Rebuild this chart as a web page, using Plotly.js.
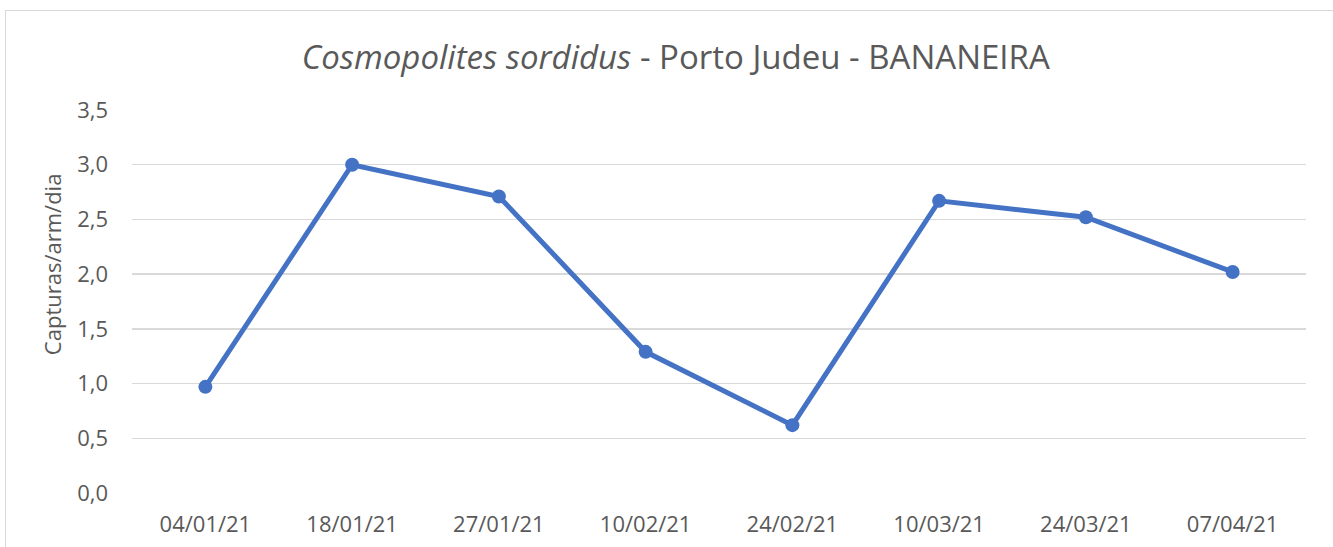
<!DOCTYPE html>
<html>
<head>
<meta charset="utf-8">
<script src="https://cdn.plot.ly/plotly-3.0.1.min.js"></script>
<style>
  html, body { margin: 0; padding: 0; background: #fff; overflow: hidden; }
  #frame { position: absolute; left: 5px; top: 10px; width: 1340px; height: 560px; border: 1px solid #d9d9d9; box-sizing: border-box; pointer-events: none; z-index: 2; }
  #chart { position: absolute; left: 0; top: 0; width: 1333px; height: 547px; }
</style>
</head>
<body>
<div id="chart"></div>
<div id="frame"></div>
<script>
const dates = ["04/01/21", "18/01/21", "27/01/21", "10/02/21", "24/02/21", "10/03/21", "24/03/21", "07/04/21"];
const capturas = [0.97, 3.00, 2.71, 1.29, 0.62, 2.67, 2.52, 2.02];
const yTicks = [0, 0.5, 1, 1.5, 2, 2.5, 3, 3.5];
const yTickLabels = ["0,0", "0,5", "1,0", "1,5", "2,0", "2,5", "3,0", "3,5"];

const font = "Open Sans, Noto Sans, sans-serif";
const gray = "#595959";

const trace = {
  x: dates,
  y: capturas,
  type: "scatter",
  mode: "lines+markers",
  line: { color: "#4472C4", width: 5 },
  marker: { color: "#4472C4", size: 14 },
  hoverinfo: "x+y"
};

const layout = {
  width: 1333,
  height: 547,
  margin: { l: 132, r: 27, t: 110, b: 54 },
  paper_bgcolor: "#ffffff",
  plot_bgcolor: "#ffffff",
  showlegend: false,
  title: {
    text: "<i>Cosmopolites sordidus</i> - Porto Judeu - BANANEIRA",
    font: { family: font, size: 33, color: gray },
    x: 0.507, xanchor: "center",
    y: 0.895, yanchor: "middle"
  },
  xaxis: {
    type: "category",
    range: [-0.5, dates.length - 0.5],
    showgrid: false,
    zeroline: false,
    showline: false,
    ticks: "",
    tickfont: { family: font, size: 22, color: gray },
    ticklabelstandoff: 16
  },
  yaxis: {
    range: [0, 3.5],
    tickvals: yTicks,
    ticktext: yTickLabels,
    showgrid: true,
    gridcolor: "#d9d9d9",
    gridwidth: 1.3,
    zeroline: false,
    showline: false,
    ticks: "",
    tickfont: { family: font, size: 22, color: gray },
    ticklabelstandoff: 23
  },
  annotations: [{
    text: "Capturas/arm/dia",
    xref: "paper", yref: "paper",
    x: -0.068, y: 0.598,
    xanchor: "center", yanchor: "middle",
    textangle: -90,
    showarrow: false,
    font: { family: font, size: 22, color: gray }
  }]
};

Plotly.newPlot("chart", [trace], layout, { displayModeBar: false, staticPlot: true });
</script>
</body>
</html>
